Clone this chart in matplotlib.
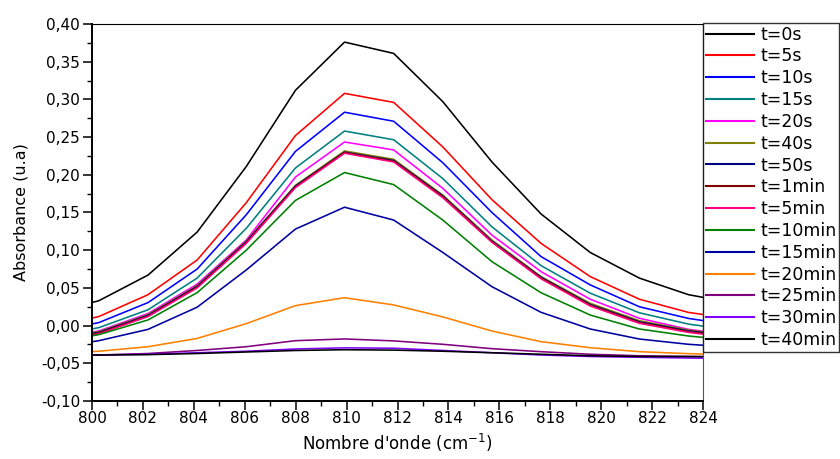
import matplotlib
matplotlib.use("Agg")
import matplotlib.pyplot as plt
from matplotlib.ticker import MultipleLocator, FuncFormatter

plt.rcParams['font.family'] = ['DejaVu Sans']

# nombre d'onde (cm-1), pas ~1.93 cm-1 ; les points extremes sont hors cadre
nombre_onde = [798.34, 800.27, 802.20, 804.13, 806.06, 807.99, 809.92, 811.85,
               813.78, 815.71, 817.64, 819.57, 821.50, 823.43, 825.36]

t_0s = [0.016, 0.033, 0.067, 0.124, 0.211, 0.312, 0.376, 0.361, 0.297, 0.217, 0.148, 0.097, 0.063, 0.041, 0.029]
t_5s = [-0.002, 0.012, 0.041, 0.087, 0.163, 0.252, 0.308, 0.296, 0.237, 0.167, 0.109, 0.065, 0.035, 0.0175, 0.008]
t_10s = [-0.009, 0.004, 0.0305, 0.075, 0.147, 0.231, 0.283, 0.271, 0.216, 0.150, 0.0915, 0.054, 0.025, 0.0095, 0.000]
t_15s = [-0.015, -0.0027, 0.021, 0.063, 0.129, 0.209, 0.258, 0.2465, 0.195, 0.131, 0.0795, 0.043, 0.017, 0.002, -0.007]
t_20s = [-0.019, -0.007, 0.016, 0.055, 0.1135, 0.197, 0.2435, 0.233, 0.182, 0.120, 0.0715, 0.035, 0.0097, -0.005, -0.013]
t_40s = [-0.020, -0.008, 0.0145, 0.053, 0.112, 0.186, 0.2316, 0.2206, 0.1732, 0.1135, 0.065, 0.0296, 0.0065, -0.006, -0.014]
t_50s = [-0.021, -0.009, 0.0135, 0.052, 0.111, 0.185, 0.230, 0.219, 0.172, 0.112, 0.064, 0.028, 0.005, -0.007, -0.015]
t_1min = [-0.022, -0.010, 0.0125, 0.051, 0.110, 0.184, 0.2295, 0.218, 0.171, 0.111, 0.063, 0.027, 0.004, -0.008, -0.016]
t_5min = [-0.023, -0.011, 0.012, 0.050, 0.109, 0.183, 0.2286, 0.217, 0.1696, 0.1105, 0.062, 0.026, 0.003, -0.009, -0.017]
t_10min = [-0.023, -0.012, 0.0075, 0.0437, 0.100, 0.166, 0.203, 0.187, 0.140, 0.0848, 0.0436, 0.014, -0.0045, -0.0138, -0.020]
t_15min = [-0.030, -0.020, -0.005, 0.0244, 0.0738, 0.128, 0.157, 0.140, 0.097, 0.0516, 0.0176, -0.0045, -0.0178, -0.0248, -0.029]
t_20min = [-0.037, -0.034, -0.028, -0.017, 0.0026, 0.0265, 0.037, 0.0274, 0.0115, -0.0072, -0.0213, -0.0293, -0.0346, -0.0372, -0.039]
t_25min = [-0.040, -0.039, -0.037, -0.033, -0.028, -0.020, -0.0177, -0.0203, -0.0248, -0.0306, -0.0346, -0.038, -0.040, -0.041, -0.0415]
t_30min = [-0.040, -0.039, -0.038, -0.036, -0.034, -0.031, -0.0295, -0.030, -0.033, -0.036, -0.039, -0.041, -0.042, -0.043, -0.0435]
t_40min = [-0.040, -0.039, -0.0385, -0.037, -0.035, -0.033, -0.032, -0.0325, -0.034, -0.036, -0.038, -0.040, -0.041, -0.041, -0.0415]

etiquettes = ['t=0s', 't=5s', 't=10s', 't=15s', 't=20s', 't=40s', 't=50s', 't=1min',
              't=5min', 't=10min', 't=15min', 't=20min', 't=25min', 't=30min', 't=40min']
series = [t_0s, t_5s, t_10s, t_15s, t_20s, t_40s, t_50s, t_1min,
          t_5min, t_10min, t_15min, t_20min, t_25min, t_30min, t_40min]
couleurs = ['#000000', '#ff0000', '#0000ff', '#008080', '#ff00ff', '#808000', '#000080', '#800000',
            '#ff0080', '#008000', '#0000a0', '#ff8000', '#800080', '#8000ff', '#000000']


def virgule(v, pos):
    return f"{v:.2f}".replace('.', ',')


fig = plt.figure(figsize=(8.4, 4.59), dpi=100)
ax = fig.add_axes([92 / 840, 1 - 401 / 459, 611 / 840, 377 / 459])

for y, lab, c in zip(series, etiquettes, couleurs):
    ax.plot(nombre_onde, y, color=c, lw=1.15, label=lab)

ax.set_xlim(800, 824)
ax.set_ylim(-0.10, 0.40)
ax.xaxis.set_major_locator(MultipleLocator(2))
ax.xaxis.set_minor_locator(MultipleLocator(1))
ax.yaxis.set_major_locator(MultipleLocator(0.05))
ax.yaxis.set_minor_locator(MultipleLocator(0.025))
ax.yaxis.set_major_formatter(FuncFormatter(virgule))
ax.tick_params(which='major', direction='out', length=6.5, width=1.1, labelsize=11)
ax.tick_params(which='minor', direction='out', length=3.5, width=1.0)
ax.tick_params(axis='x', which='major', pad=1)
ax.tick_params(axis='y', which='major', pad=2)
ax.tick_params(top=False, right=False)

ax.spines['left'].set_linewidth(1.4)
ax.spines['bottom'].set_linewidth(1.4)
ax.spines['top'].set_linewidth(0.8)
ax.spines['right'].set_linewidth(0.8)
ax.spines['right'].set_color('#555555')

ax.set_xlabel(r"Nombre d'onde (cm$^{-1}$)", fontsize=12, labelpad=4)
ax.set_ylabel("Absorbance (u.a)", fontsize=11.5, labelpad=9)

leg = fig.legend(loc='upper left', bbox_to_anchor=(703 / 840, 1 - 23 / 459),
                 bbox_transform=fig.transFigure, fontsize=12.5, frameon=True,
                 fancybox=False, edgecolor='black', borderpad=0.15, borderaxespad=0,
                 handlelength=2.8, handletextpad=0.35, labelspacing=0.22)
leg.get_frame().set_linewidth(1.0)
for h in leg.get_lines():
    h.set_linewidth(1.5)

fig.savefig('out.png', dpi=100)
